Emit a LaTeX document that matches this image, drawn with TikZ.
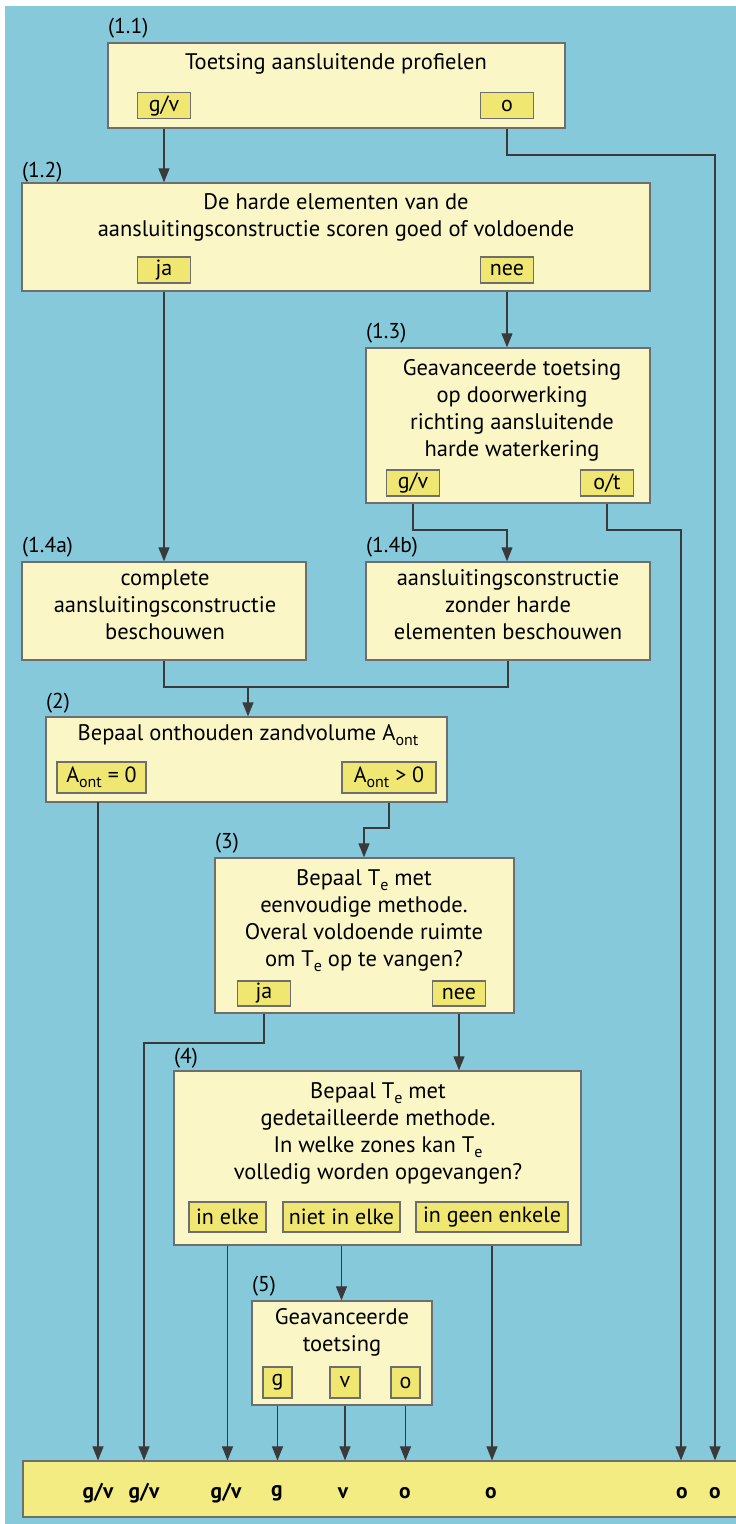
\documentclass[tikz,border=0pt]{standalone}
\usepackage{fontspec}
\setmainfont{PT Sans}
\usetikzlibrary{arrows.meta,calc}
\definecolor{bgblue}{HTML}{86C9DA}
\definecolor{pale}{HTML}{FAF6C6}
\definecolor{ylw}{HTML}{F0E772}
\definecolor{barylw}{HTML}{F3EC82}
\definecolor{edge}{HTML}{6E6E6E}
\definecolor{wire}{HTML}{3A3A3A}
\newcommand{\lowsub}[1]{\raisebox{-5pt}{\fontsize{16}{16}\selectfont #1}}
\begin{document}
\begin{tikzpicture}[x=1pt,y=-1pt,
  bigbox/.style={draw=edge,line width=1.4pt,fill=pale,inner sep=0pt},
  sbox/.style={draw=edge,line width=1.2pt,fill=ylw,inner sep=0pt,minimum height=26pt,
     font=\fontsize{22}{26}\selectfont},
  txt/.style={inner sep=0pt,align=center,font=\fontsize{22.5}{27}\selectfont},
  lbl/.style={inner sep=0pt,anchor=west,font=\fontsize{21.5}{24}\selectfont},
  res/.style={inner sep=0pt,font=\fontsize{21.5}{24}\selectfont\bfseries},
  wireline/.style={draw=wire,line width=1.1pt},
  arr/.style={wireline,-{Triangle[length=14pt,width=11pt]}}]
\useasboundingbox (0,0) rectangle (736,1524);
\fill[white] (0,0) rectangle (736,1524);
\fill[bgblue] (5,6) rectangle (736,1524);

% (1.1)
\node[bigbox,minimum width=457pt,minimum height=85pt] (b11) at (336.5,85.5) {};
\node[lbl] (l11) at (108,28) {(1.1)};
\node[txt] (t11) at (336,64) {Toetsing aansluitende profielen};
\node[sbox,minimum width=53pt] (gv11) at (164,105.5) {g/v};
\node[sbox,minimum width=53pt] (o11) at (507,105.5) {o};

% (1.2)
\node[bigbox,minimum width=628pt,minimum height=108pt] (b12) at (336,237) {};
\node[lbl] (l12) at (22,172) {(1.2)};
\node[txt] (t12) at (336,217.5) {De harde elementen van de\\aansluitingsconstructie scoren goed of voldoende};
\node[sbox,minimum width=53pt] (ja12) at (164,270) {ja};
\node[sbox,minimum width=53pt] (nee12) at (507,270) {nee};

% (1.3)
\node[bigbox,minimum width=284pt,minimum height=155pt] (b13) at (508,425.5) {};
\node[lbl] (l13) at (366,333) {(1.3)};
\node[txt] (t13) at (512,410.5) {Geavanceerde toetsing\\op doorwerking\\richting aansluitende\\harde waterkering};
\node[sbox,minimum width=53pt] (gv13) at (413,483) {g/v};
\node[sbox,minimum width=53pt] (ot13) at (607,483) {o/t};

% (1.4a) (1.4b)
\node[bigbox,minimum width=284pt,minimum height=98pt] (b14a) at (164,611) {};
\node[lbl] (l14a) at (22,547) {(1.4a)};
\node[txt] (t14a) at (165,605) {complete\\aansluitingsconstructie\\beschouwen};
\node[bigbox,minimum width=284pt,minimum height=98pt] (b14b) at (508,611) {};
\node[lbl] (l14b) at (366,547) {(1.4b)};
\node[txt] (t14b) at (508,605) {aansluitingsconstructie\\zonder harde\\elementen beschouwen};

% (2)
\node[bigbox,minimum width=401pt,minimum height=85pt] (b2) at (246.5,759.5) {};
\node[lbl] (l2) at (46,703) {(2)};
\node[txt] (t2) at (248,735) {Bepaal onthouden zandvolume A\lowsub{ont}};
\node[sbox,minimum width=89pt,minimum height=31pt] (a0) at (101.5,777.5) {A\lowsub{ont} = 0};
\node[sbox,minimum width=94pt,minimum height=31pt] (ag) at (389,777.5) {A\lowsub{ont} > 0};

% (3)
\node[bigbox,minimum width=299pt,minimum height=155pt] (b3) at (364.5,935.5) {};
\node[lbl] (l3) at (215,843) {(3)};
\node[txt] (t3) at (364,920.5) {Bepaal T\lowsub{e} met\\eenvoudige methode.\\Overal voldoende ruimte\\om T\lowsub{e} op te vangen?};
\node[sbox,minimum width=53pt,minimum height=25pt] (ja3) at (264,993.5) {ja};
\node[sbox,minimum width=53pt,minimum height=25pt] (nee3) at (459,993.5) {nee};

% (4)
\node[bigbox,minimum width=407pt,minimum height=174pt] (b4) at (377.5,1158) {};
\node[lbl] (l4) at (174,1058) {(4)};
\node[txt] (t4) at (378,1133.5) {Bepaal T\lowsub{e} met\\gedetailleerde methode.\\In welke zones kan T\lowsub{e}\\volledig worden opgevangen?};
\node[sbox,minimum width=77pt,minimum height=30pt] (elke) at (227.5,1217) {in elke};
\node[sbox,minimum width=117pt,minimum height=30pt] (niet) at (341.5,1217) {niet in elke};
\node[sbox,minimum width=152pt,minimum height=30pt] (geen) at (492,1217) {in geen enkele};

% (5)
\node[bigbox,minimum width=180pt,minimum height=104pt] (b5) at (342,1353) {};
\node[lbl] (l5) at (252,1286) {(5)};
\node[txt] (t5) at (342,1332.5) {Geavanceerde\\toetsing};
\node[sbox,minimum width=29pt,minimum height=31pt] (g5) at (277.5,1382.5) {g};
\node[sbox,minimum width=30pt,minimum height=31pt] (v5) at (345,1382.5) {v};
\node[sbox,minimum width=29pt,minimum height=31pt] (o5) at (405.5,1382.5) {o};

% result bar
\node[draw=edge,line width=1.2pt,fill=barylw,inner sep=0pt,minimum width=714pt,minimum height=56pt] (bar) at (380,1489) {};
\node[res] (r1) at (98,1493) {g/v};
\node[res] (r2) at (144,1493) {g/v};
\node[res] (r3) at (226,1493) {g/v};
\node[res] (r4) at (277,1493) {g};
\node[res] (r5) at (343,1493) {v};
\node[res] (r6) at (405,1493) {o};
\node[res] (r7) at (491,1493) {o};
\node[res] (r8) at (682,1493) {o};
\node[res] (r9) at (715,1493) {o};

% helper coordinates
\coordinate (c1) at (715,155);
\coordinate (c2) at (507,530);
\coordinate (c3) at (681,530);
\coordinate (c4) at (248,687);
\coordinate (c5) at (364,828);
\coordinate (c6) at (144,1043);
\coordinate (c7) at (98,802);

% connectors
\draw[arr] (gv11 |- b11.south) -- (gv11 |- b12.north);
\draw[arr] (o11 |- b11.south) -- (o11 |- c1) -- (c1) -- (c1 |- bar.north);
\draw[arr] (ja12 |- b12.south) -- (ja12 |- b14a.north);
\draw[arr] (nee12 |- b12.south) -- (nee12 |- b13.north);
\draw[arr] (gv13 |- b13.south) -- (gv13 |- c2) -- (c2) -- (c2 |- b14b.north);
\draw[arr] (ot13 |- b13.south) -- (ot13 |- c3) -- (c3) -- (c3 |- bar.north);
\draw[wireline] (b14a.south) -- (b14a.south |- c4) -- (b14b.south |- c4) -- (b14b.south);
\draw[arr] (c4) -- (c4 |- b2.north);
\draw[arr] (c7) -- (c7 |- bar.north);
\draw[arr] (ag |- b2.south) -- (ag |- c5) -- (c5) -- (c5 |- b3.north);
\draw[arr] (ja3 |- b3.south) -- (ja3 |- c6) -- (c6) -- (c6 |- bar.north);
\draw[arr] (nee3 |- b3.south) -- (nee3 |- b4.north);
\draw[arr] (elke |- b4.south) -- (elke |- bar.north);
\draw[arr] (niet |- b4.south) -- (niet |- b5.north);
\draw[arr] (geen |- b4.south) -- (geen |- bar.north);
\draw[arr] (g5 |- b5.south) -- (g5 |- bar.north);
\draw[arr] (v5 |- b5.south) -- (v5 |- bar.north);
\draw[arr] (o5 |- b5.south) -- (o5 |- bar.north);
\end{tikzpicture}
\end{document}
